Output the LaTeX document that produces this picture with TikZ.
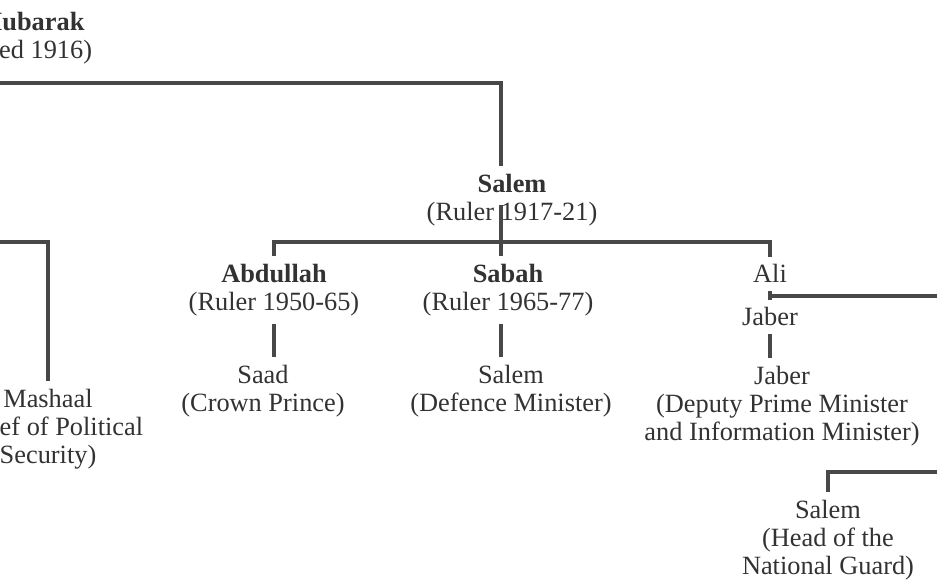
\documentclass[tikz,border=0pt]{standalone}
\usepackage{fontspec}
\setmainfont{Liberation Serif}
\usepackage{tikz}
\usepackage{xcolor}
\usetikzlibrary{positioning}
\definecolor{inkgray}{RGB}{50, 50, 50}
\definecolor{linegray}{RGB}{72, 72, 72}
\tikzset{
    person/.style={align=center, anchor=base, inner sep=1.5mm, text=inkgray, font=\fontsize{15}{16.2}\selectfont},
    link/.style={draw=linegray, line width=2.6pt}
}

\begin{document}
\begin{tikzpicture}[x=0.02cm, y=-0.02cm]
    \useasboundingbox (0,0) rectangle (937,580);
    \clip (0,0) rectangle (937,580);
    % people (placed by the baseline of their last line)
    \node[person] (mubarak) at (31,59) {\textbf{Mubarak}\\(died 1916)};
    \node[person] (salem) at (512,221) {\textbf{Salem}\\(Ruler 1917-21)};
    \node[person] (abdullah) at (274,311) {\textbf{Abdullah}\\(Ruler 1950-65)};
    \node[person] (sabah) at (508,311) {\textbf{Sabah}\\(Ruler 1965-77)};
    \node[person] (ali) at (770,283) {Ali};
    \node[person] (jaberA) at (770,326) {Jaber};
    \node[person] (saad) at (263,412) {Saad\\(Crown Prince)};
    \node[person] (salemD) at (511,412) {Salem\\(Defence Minister)};
    \node[person] (jaberB) at (782,441) {Jaber\\(Deputy Prime Minister\\and Information Minister)};
    \node[person] (mashaal) at (48,464) {Mashaal\\(Chief of Political\\Security)};
    \node[person] (salemN) at (828,575) {Salem\\(Head of the\\National Guard)};
    % free ends and stems
    \coordinate (topL) at (-10,83);
    \coordinate (leftL) at (-10,242);
    \coordinate (aliR) at (947,296);
    \coordinate (guardR) at (947,472);
    \coordinate (salemStem) at (501,205);
    \coordinate (salemBar) at (501,242);
    % connectors
    \draw[link] (topL) -| (salemStem |- salem.north);
    \draw[link] (salemStem) -- (salemStem |- sabah.north);
    \draw[link] (abdullah.north) |- (salemBar) -| (ali.north);
    \draw[link] (abdullah.south) -- (abdullah.south |- saad.north);
    \draw[link] (salemStem |- sabah.south) -- (salemStem |- salemD.north);
    \draw[link] (ali.south) -- (ali.south |- jaberA.north);
    \draw[link] (ali.south |- aliR) -- (aliR);
    \draw[link] (jaberA.south) -- (jaberA.south |- jaberB.north);
    \draw[link] (leftL) -| (mashaal.north);
    \draw[link] (guardR) -| (salemN.north);
\end{tikzpicture}
\end{document}
